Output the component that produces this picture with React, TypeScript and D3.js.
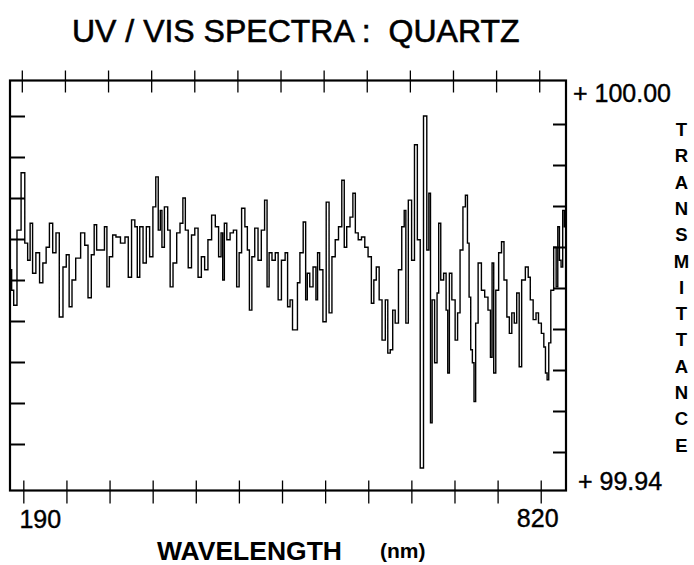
import React from 'react';
import * as d3 from 'd3';

// ---- data ----
const WAVELENGTHS = [
  175, 176, 178, 181, 186, 191, 195, 198, 201, 204, 209, 213, 217, 221, 225, 229, 233, 237, 242, 245,
  249, 252, 258, 264, 268, 272, 276, 279, 282, 288, 292, 294, 298, 302, 306, 313, 317, 321, 325, 329,
  331, 335, 339, 343, 347, 351, 354, 357, 359, 361, 365, 369, 371, 376, 380, 384, 387, 390, 394, 398,
  402, 406, 410, 414, 418, 423, 427, 431, 433, 435, 437, 441, 445, 449, 453, 455, 459, 463, 465, 468,
  471, 475, 479, 483, 487, 489, 492, 496, 500, 503, 508, 512, 514, 518, 520, 524, 526, 530, 534, 536,
  538, 542, 546, 549, 550, 554, 558, 562, 565, 569, 573, 577, 581, 583, 587, 591, 594, 597, 601, 605,
  609, 613, 617, 619, 623, 626, 630, 634, 636, 640, 642, 646, 650, 654, 656, 658, 662, 666, 669, 673,
  676, 681, 684, 686, 688, 690, 694, 696, 698, 701, 705, 707, 709, 711, 715, 719, 721, 725, 728, 731,
  733, 735, 737, 739, 741, 743, 747, 751, 755, 759, 761, 763, 765, 768, 772, 775, 778, 782, 784, 788,
  790, 794, 796, 800, 805, 807, 810, 814, 817, 820, 824, 826, 828, 830, 832, 835, 839, 841, 843, 845,
  847, 849, 851,
];

const TRANSMITTANCE = [
  99.9708, 99.9723, 99.9693, 99.9671, 99.9781, 99.9865, 99.9762, 99.9737, 99.9791, 99.9718, 99.9748, 99.9704, 99.9733, 99.9756, 99.9791, 99.9748, 99.9777, 99.9654, 99.9727, 99.9745,
  99.9669, 99.9708, 99.9740, 99.9777, 99.9759, 99.9682, 99.9745, 99.9789, 99.9752, 99.9752, 99.9786, 99.9698, 99.9742, 99.9774, 99.9771, 99.9762, 99.9771, 99.9712, 99.9796, 99.9786,
  99.9712, 99.9786, 99.9733, 99.9786, 99.9742, 99.9815, 99.9859, 99.9781, 99.9810, 99.9756, 99.9815, 99.9781, 99.9698, 99.9733, 99.9777, 99.9791, 99.9828, 99.9781, 99.9726, 99.9774,
  99.9784, 99.9712, 99.9742, 99.9723, 99.9767, 99.9803, 99.9786, 99.9742, 99.9777, 99.9708, 99.9791, 99.9767, 99.9777, 99.9781, 99.9698, 99.9748, 99.9813, 99.9786, 99.9752, 99.9664,
  99.9742, 99.9784, 99.9737, 99.9781, 99.9825, 99.9698, 99.9748, 99.9737, 99.9748, 99.9679, 99.9737, 99.9748, 99.9669, 99.9679, 99.9635, 99.9635, 99.9704, 99.9748, 99.9793, 99.9679,
  99.9718, 99.9698, 99.9727, 99.9679, 99.9748, 99.9723, 99.9647, 99.9822, 99.9660, 99.9742, 99.9767, 99.9786, 99.9854, 99.9756, 99.9786, 99.9800, 99.9835, 99.9777, 99.9767, 99.9771,
  99.9756, 99.9742, 99.9674, 99.9708, 99.9727, 99.9679, 99.9620, 99.9679, 99.9601, 99.9606, 99.9664, 99.9645, 99.9723, 99.9786, 99.9810, 99.9645, 99.9825, 99.9737, 99.9906, 99.9767,
  99.9433, 99.9948, 99.9752, 99.9835, 99.9499, 99.9679, 99.9587, 99.9689, 99.9791, 99.9708, 99.9718, 99.9664, 99.9572, 99.9718, 99.9679, 99.9620, 99.9660, 99.9752, 99.9815, 99.9832,
  99.9762, 99.9683, 99.9606, 99.9587, 99.9530, 99.9645, 99.9733, 99.9693, 99.9683, 99.9664, 99.9595, 99.9733, 99.9572, 99.9693, 99.9748, 99.9764, 99.9708, 99.9654, 99.9630, 99.9660,
  99.9645, 99.9689, 99.9581, 99.9708, 99.9727, 99.9712, 99.9679, 99.9650, 99.9660, 99.9645, 99.9630, 99.9610, 99.9572, 99.9562, 99.9616, 99.9693, 99.9756, 99.9698, 99.9786, 99.9737,
  99.9727, 99.9810, 99.9786,
];

const X_DOMAIN = [175, 852];
const X_TICKS = [190, 242.5, 295, 347.5, 400, 452.5, 505, 557.5, 610, 662.5, 715, 767.5, 820];
const X_LABELS = ['190', '820'];
const Y_DOMAIN = [99.94, 100.0];
const Y_TICKS = [99.946, 99.952, 99.958, 99.964, 99.970, 99.976, 99.982, 99.988, 99.994];
const Y_LABELS = ['+ 100.00', '+ 99.94'];
const TITLE = 'UV / VIS SPECTRA :  QUARTZ';
const X_TITLE = 'WAVELENGTH';
const X_UNIT = '(nm)';
const Y_TITLE = 'TRANSMITTANCE';

const W = 694;
const H = 565;
const FONT = "'Liberation Sans', Arial, Helvetica, sans-serif";

export default function App() {
  const left = 10, right = 566, top = 80.5, bottom = 490.5;
  const x = d3.scaleLinear().domain(X_DOMAIN).range([left, right]);
  const y = d3.scaleLinear().domain(Y_DOMAIN).range([bottom, top]);

  const pts: [number, number][] = WAVELENGTHS.map((w, i) => [w, TRANSMITTANCE[i]]);
  const line = d3
    .line<[number, number]>()
    .x((d) => x(d[0]))
    .y((d) => y(d[1]))
    .curve(d3.curveStep);

  const leftShift = -5;
  const rightShift = 3;

  return (
    <svg
      width={W}
      height={H}
      style={{ position: 'absolute', left: 0, top: 0, background: '#fff' }}
      fontFamily={FONT}
    >
      <rect x={0} y={0} width={W} height={H} fill="#fff" />
      {/* title */}
      <text x={72} y={42} fontSize={32} fill="#000" stroke="#000" strokeWidth={0.6} style={{ whiteSpace: 'pre' }}>
        {TITLE}
      </text>

      {/* data trace */}
      <path d={line(pts) || ''} fill="none" stroke="#000" strokeWidth={1.4} strokeLinejoin="miter" />

      {/* frame */}
      <rect x={left} y={top} width={right - left} height={bottom - top} fill="none" stroke="#000" strokeWidth={2.2} />

      {/* top & bottom ticks (crossing the frame) */}
      {X_TICKS.map((t) => (
        <g key={t}>
          <line x1={x(t)} x2={x(t)} y1={top - 10} y2={top + 12} stroke="#000" strokeWidth={1.3} />
          <line x1={x(t) + 1.5} x2={x(t) + 1.5} y1={bottom - 10} y2={bottom + 13} stroke="#000" strokeWidth={1.3} />
        </g>
      ))}

      {/* left & right ticks */}
      {Y_TICKS.map((t) => (
        <g key={t}>
          <line x1={left} x2={left + 15} y1={y(t) + leftShift} y2={y(t) + leftShift} stroke="#000" strokeWidth={2} />
          <line x1={right - 13} x2={right} y1={y(t) + rightShift} y2={y(t) + rightShift} stroke="#000" strokeWidth={2} />
        </g>
      ))}

      {/* y end labels */}
      <text x={573} y={102} fontSize={25} fill="#000" stroke="#000" strokeWidth={0.4} style={{ whiteSpace: 'pre' }}>
        {Y_LABELS[0]}
      </text>
      <text x={578} y={490} fontSize={25} fill="#000" stroke="#000" strokeWidth={0.4} style={{ whiteSpace: 'pre' }}>
        {Y_LABELS[1]}
      </text>

      {/* x end labels */}
      <text x={x(X_TICKS[0]) + 18} y={528} fontSize={25} textAnchor="middle" fill="#000" stroke="#000" strokeWidth={0.4}>
        {X_LABELS[0]}
      </text>
      <text x={x(X_TICKS[X_TICKS.length - 1]) - 2} y={527} fontSize={25} textAnchor="middle" fill="#000" stroke="#000" strokeWidth={0.4}>
        {X_LABELS[1]}
      </text>

      {/* x title */}
      <text x={157} y={560} fontSize={26.5} fontWeight="bold" fill="#000">
        {X_TITLE}
      </text>
      <text x={380} y={558} fontSize={21} fontWeight="bold" fill="#000">
        {X_UNIT}
      </text>

      {/* y title, stacked letters */}
      {Y_TITLE.split('').map((ch, i) => (
        <text key={i} x={681.5} y={136 + i * 26.3} fontSize={18.5} fontWeight="bold" textAnchor="middle" fill="#000">
          {ch}
        </text>
      ))}
    </svg>
  );
}
